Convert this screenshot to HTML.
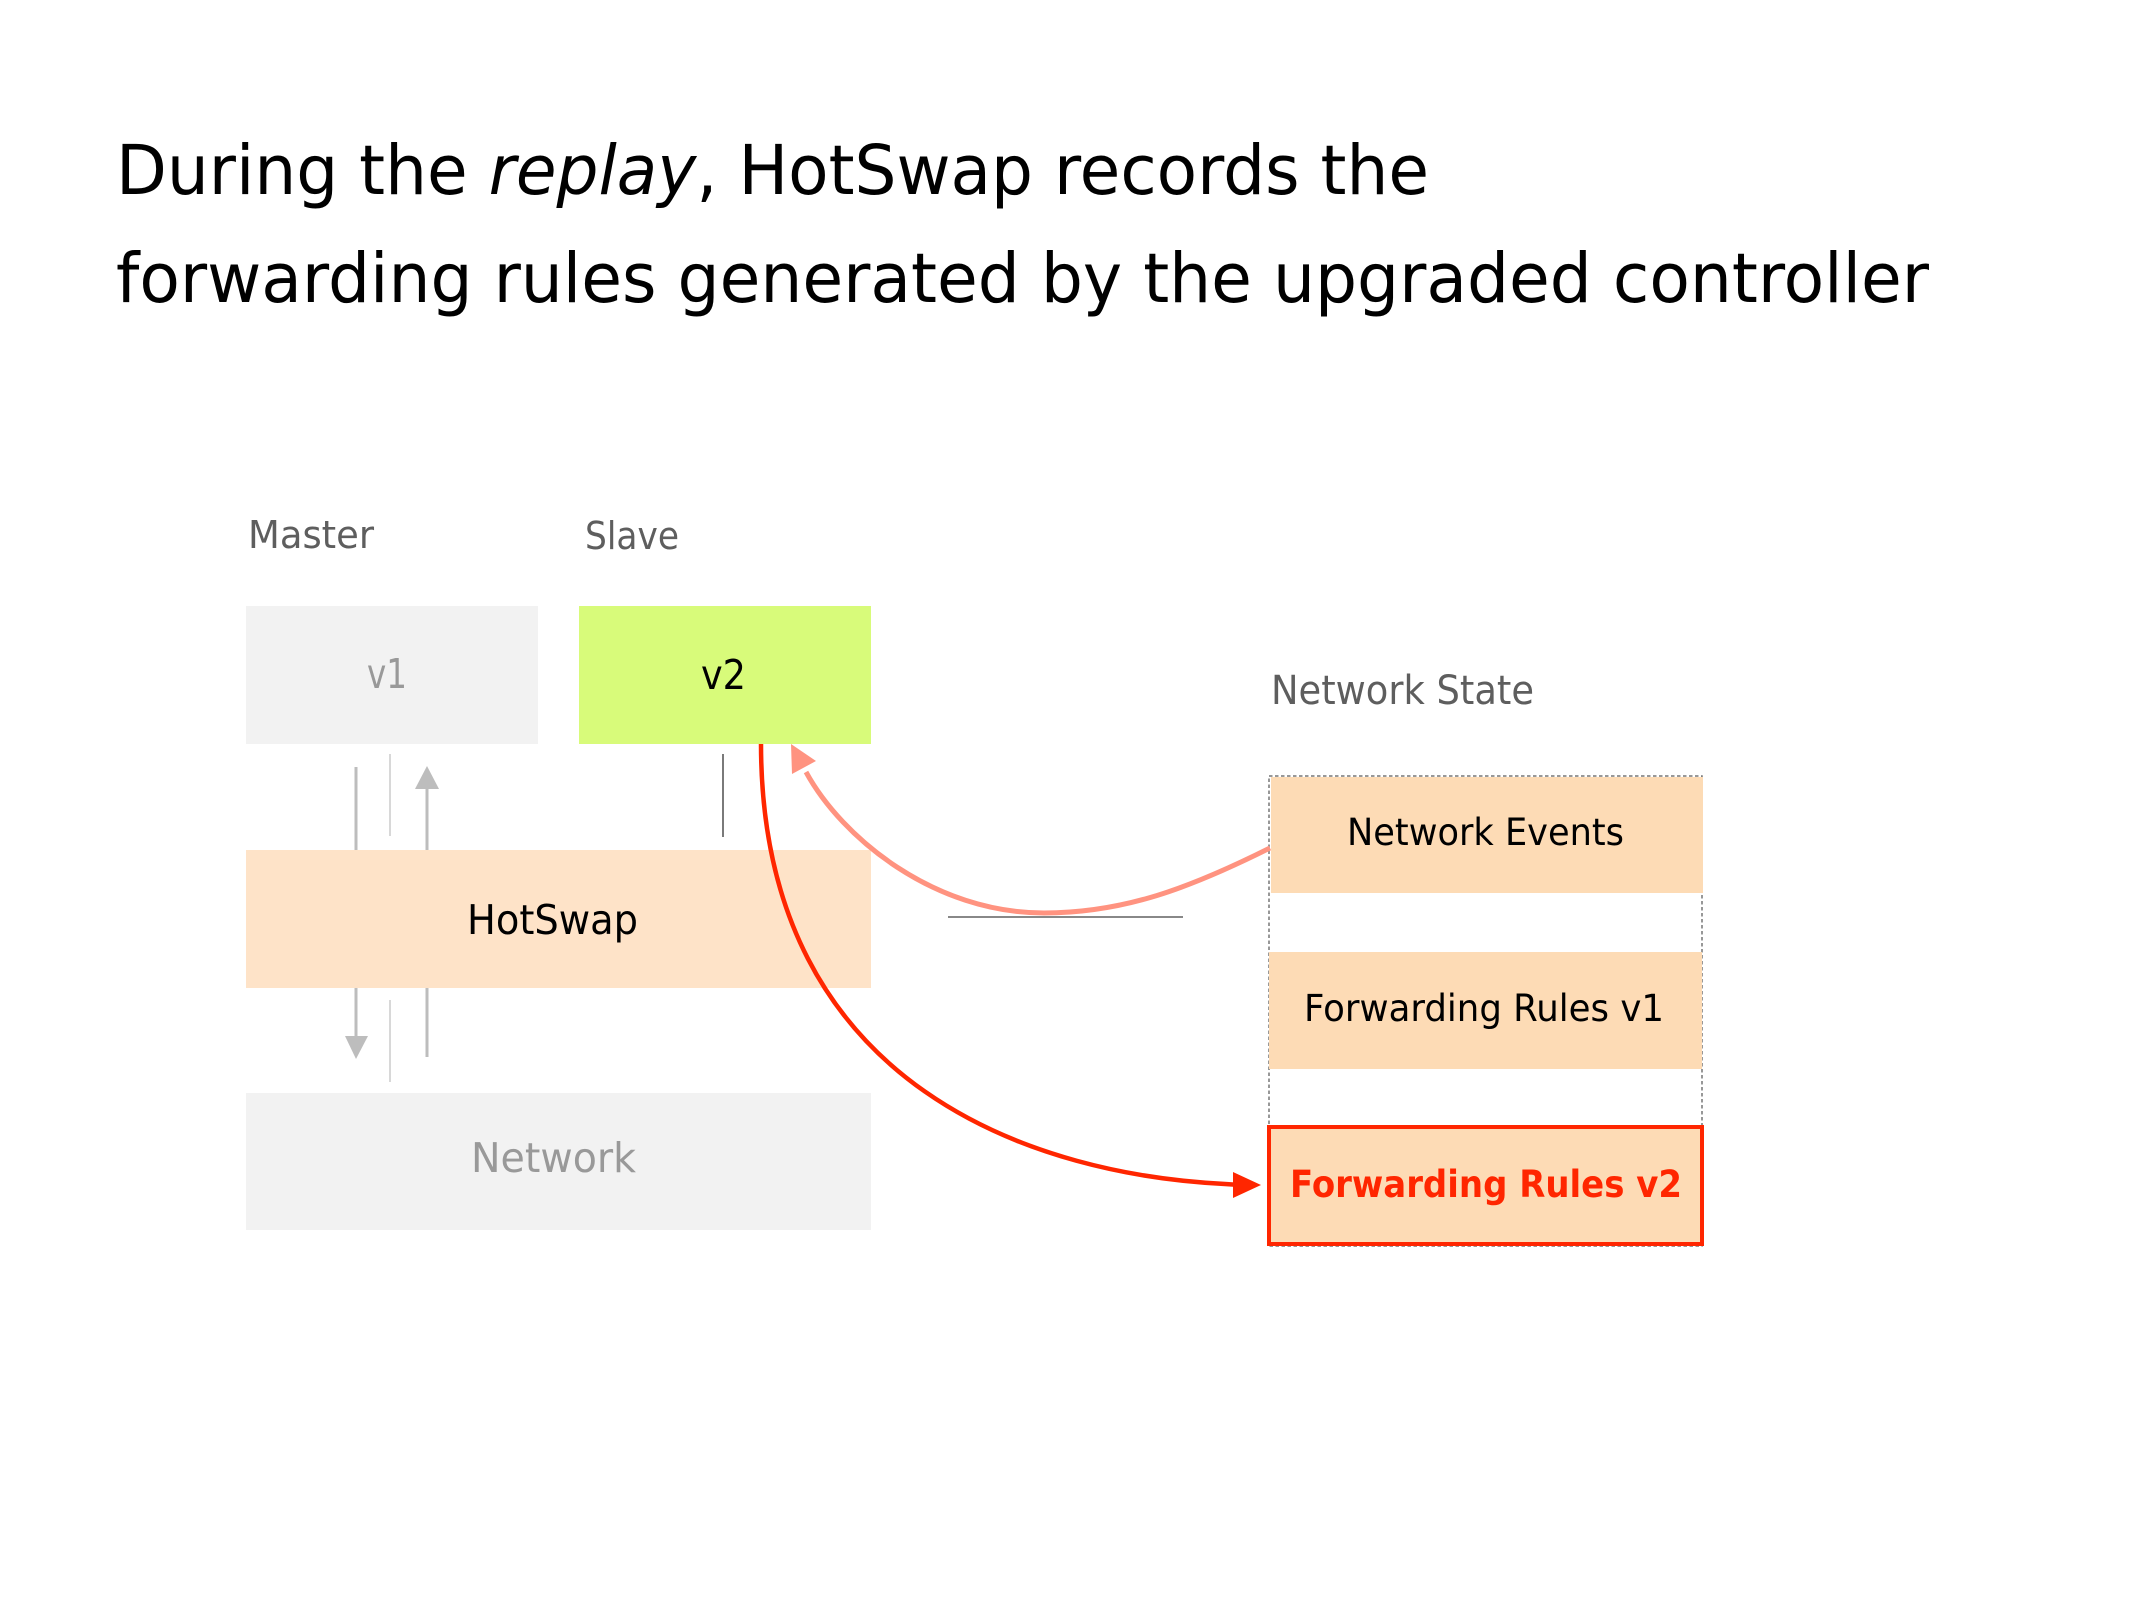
<!DOCTYPE html>
<html>
<head>
<meta charset="utf-8">
<style>
  html, body { margin: 0; padding: 0; background: #ffffff; }
  svg { display: block; }
  text { font-family: "DejaVu Sans", "Liberation Sans", sans-serif; }
</style>
</head>
<body>
<svg width="2134" height="1600" viewBox="0 0 2134 1600" xmlns="http://www.w3.org/2000/svg">
  <rect x="0" y="0" width="2134" height="1600" fill="#ffffff"/>

  <!-- Title -->
  <text x="116" y="194" font-size="69" fill="#000" textLength="1313" lengthAdjust="spacingAndGlyphs">During the <tspan font-style="italic">replay</tspan>, HotSwap records the</text>
  <text x="116" y="302" font-size="69" fill="#000" textLength="1813" lengthAdjust="spacingAndGlyphs">forwarding rules generated by the upgraded controller</text>

  <!-- Column labels -->
  <text x="248" y="548" font-size="38" fill="#5e5e5e" textLength="126" lengthAdjust="spacingAndGlyphs">Master</text>
  <text x="585" y="549" font-size="38" fill="#5e5e5e" textLength="94" lengthAdjust="spacingAndGlyphs">Slave</text>
  <text x="1271" y="704" font-size="40" fill="#5e5e5e" textLength="263" lengthAdjust="spacingAndGlyphs">Network State</text>

  <!-- v1 / v2 boxes -->
  <rect x="246" y="606" width="292" height="138" fill="#f2f2f2"/>
  <text x="367" y="688" font-size="41" fill="#999" textLength="40" lengthAdjust="spacingAndGlyphs">v1</text>
  <rect x="579" y="606" width="292" height="138" fill="#d8fb7a"/>
  <text x="701" y="689" font-size="41" fill="#000" textLength="45" lengthAdjust="spacingAndGlyphs">v2</text>

  <!-- HotSwap box -->
  <rect x="246" y="850" width="625" height="138" fill="#fee3c8"/>
  <text x="467" y="934" font-size="41" fill="#000" textLength="171" lengthAdjust="spacingAndGlyphs">HotSwap</text>

  <!-- Network box -->
  <rect x="246" y="1093" width="625" height="137" fill="#f2f2f2"/>
  <text x="471" y="1172" font-size="41" fill="#999" textLength="165" lengthAdjust="spacingAndGlyphs">Network</text>

  <!-- Gray connectors v1 <-> HotSwap -->
  <line x1="356" y1="767" x2="356" y2="850" stroke="#bdbdbd" stroke-width="3"/>
  <line x1="390" y1="754" x2="390" y2="836" stroke="#c4c4c4" stroke-width="1.3"/>
  <line x1="427" y1="786" x2="427" y2="850" stroke="#bdbdbd" stroke-width="3"/>
  <polygon points="427,766 415,789 439,789" fill="#bdbdbd"/>

  <!-- Gray connectors HotSwap <-> Network -->
  <line x1="356" y1="988" x2="356" y2="1040" stroke="#bdbdbd" stroke-width="3"/>
  <polygon points="356,1059 345,1036 368,1036" fill="#bdbdbd"/>
  <line x1="390" y1="1000" x2="390" y2="1082" stroke="#c4c4c4" stroke-width="1.3"/>
  <line x1="427" y1="988" x2="427" y2="1057" stroke="#bdbdbd" stroke-width="3"/>

  <!-- thin line under v2 -->
  <line x1="723" y1="754" x2="723" y2="837" stroke="#7a7a7a" stroke-width="2"/>

  <!-- gray horizontal line -->
  <line x1="948" y1="917" x2="1183" y2="917" stroke="#888888" stroke-width="2"/>

  <!-- Network State dashed container -->
  <rect x="1269" y="776" width="433" height="470" fill="none" stroke="#777777" stroke-width="1.5" stroke-dasharray="3.5,2.5"/>

  <!-- Network Events -->
  <rect x="1271" y="777" width="432" height="116" fill="#fddbb5"/>
  <text x="1347" y="845" font-size="37" fill="#000" textLength="277" lengthAdjust="spacingAndGlyphs">Network Events</text>

  <!-- Forwarding Rules v1 -->
  <rect x="1269" y="952" width="433" height="117" fill="#fddbb5"/>
  <text x="1304" y="1021" font-size="37" fill="#000" textLength="360" lengthAdjust="spacingAndGlyphs">Forwarding Rules v1</text>

  <!-- Forwarding Rules v2 -->
  <rect x="1269" y="1127" width="433" height="117" fill="#fddbb5" stroke="#ff2600" stroke-width="4"/>
  <text x="1290" y="1197" font-size="37" font-weight="bold" fill="#ff2600" textLength="392" lengthAdjust="spacingAndGlyphs">Forwarding Rules v2</text>

  <!-- Salmon curve: Network Events -> v2 -->
  <path d="M1270,848 C1190,888 1124,913 1044,913 C934,913 842,838 806,772" fill="none" stroke="#ff9380" stroke-width="5"/>
  <polygon points="791,744 792,774 816,761" fill="#ff9380"/>

  <!-- Red curve: v2 -> Forwarding Rules v2 -->
  <path d="M761,744 C761,1092.7 1042.9,1175.5 1227,1184.1 L1240,1185" fill="none" stroke="#ff2600" stroke-width="4.5" stroke-linejoin="round"/>
  <polygon points="1261,1185 1233,1172 1233,1198" fill="#ff2600"/>
</svg>
</body>
</html>
